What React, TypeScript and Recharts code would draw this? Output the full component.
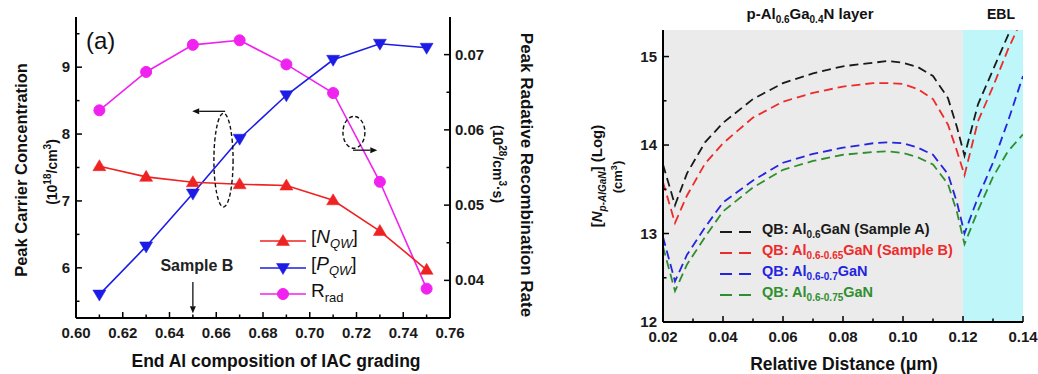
import React from 'react';
import {
  ComposedChart,
  LineChart,
  Line,
  XAxis,
  YAxis,
  ReferenceDot,
  ReferenceLine,
  ReferenceArea,
  Legend,
  Customized,
} from 'recharts';

const FONT = '"Liberation Sans", Arial, Helvetica, sans-serif';

// ---------------- Panel (a) data ----------------
const AL_END = [0.61, 0.63, 0.65, 0.67, 0.69, 0.71, 0.73, 0.75];
const N_QW = [7.52, 7.36, 7.28, 7.25, 7.23, 7.01, 6.55, 5.97];
const P_QW = [5.6, 6.32, 7.11, 7.93, 8.58, 9.11, 9.35, 9.29];
const R_RAD = [0.0626, 0.0677, 0.0713, 0.0719, 0.0687, 0.0649, 0.0531, 0.0389];

const A_X_DOMAIN = [0.6, 0.76];
const A_X_TICKS = [0.6, 0.61, 0.62, 0.63, 0.64, 0.65, 0.66, 0.67, 0.68, 0.69, 0.7, 0.71, 0.72, 0.73, 0.74, 0.75, 0.76];
const A_X_MAJOR = [0.6, 0.62, 0.64, 0.66, 0.68, 0.7, 0.72, 0.74, 0.76];
const A_YL_DOMAIN = [5.25, 9.75];
const A_YL_TICKS = [5.5, 6, 6.5, 7, 7.5, 8, 8.5, 9, 9.5];
const A_YL_MAJOR = [6, 7, 8, 9];
const A_YR_DOMAIN = [0.035, 0.075];
const A_YR_TICKS = [0.04, 0.045, 0.05, 0.055, 0.06, 0.065, 0.07];
const A_YR_MAJOR = [0.04, 0.05, 0.06, 0.07];

// annotations (data coordinates)
const A_ELLIPSE_LEFT = [{ x: 0.659, y: 6.91 }, { x: 0.6672, y: 8.31 }];
const A_ARROW_LEFT = [{ x: 0.6638, y: 8.34 }, { x: 0.6497, y: 8.34 }];
const A_ELLIPSE_RIGHT = [{ x: 0.7142, y: 0.05755 }, { x: 0.7236, y: 0.06179 }];
const A_ARROW_RIGHT = [{ x: 0.7185, y: 0.0573 }, { x: 0.7289, y: 0.0573 }];
const SAMPLE_B_ARROW = [{ x: 0.65, y: 5.79 }, { x: 0.65, y: 5.32 }];
const SAMPLE_B_LABEL = { x: 0.65, y: 6.04, text: 'Sample B' };

// ---------------- Panel (b) data ----------------
const DIST = [0.02, 0.024, 0.028, 0.034, 0.04, 0.05, 0.06, 0.07, 0.08, 0.09, 0.095, 0.1, 0.105, 0.11, 0.115, 0.118, 0.1205, 0.125, 0.13, 0.135, 0.14];
const QB_A = [13.78, 13.32, 13.68, 14.03, 14.25, 14.52, 14.7, 14.81, 14.89, 14.93, 14.95, 14.93, 14.88, 14.78, 14.53, 14.2, 13.88, 14.46, 14.85, 15.24, 15.65];
const QB_B = [13.58, 13.12, 13.43, 13.79, 14.02, 14.31, 14.49, 14.59, 14.66, 14.7, 14.7, 14.69, 14.63, 14.52, 14.23, 13.93, 13.66, 14.27, 14.66, 15.08, 15.45];
const QB_C = [12.96, 12.46, 12.76, 13.07, 13.35, 13.6, 13.8, 13.9, 13.97, 14.02, 14.03, 14.02, 13.97, 13.89, 13.67, 13.35, 13.0, 13.41, 13.8, 14.27, 14.78];
const QB_D = [12.85, 12.35, 12.65, 12.96, 13.25, 13.52, 13.72, 13.82, 13.89, 13.92, 13.93, 13.91, 13.86, 13.78, 13.56, 13.24, 12.88, 13.26, 13.64, 13.93, 14.12];

const B_X_DOMAIN = [0.02, 0.14];
const B_X_TICKS = [0.02, 0.03, 0.04, 0.05, 0.06, 0.07, 0.08, 0.09, 0.1, 0.11, 0.12, 0.13, 0.14];
const B_X_MAJOR = [0.02, 0.04, 0.06, 0.08, 0.1, 0.12, 0.14];
const B_Y_DOMAIN = [12, 15.3];
const B_Y_TICKS = [12, 12.5, 13, 13.5, 14, 14.5, 15];
const B_Y_MAJOR = [12, 13, 14, 15];
const P_LAYER = [0.02, 0.12];
const EBL_LAYER = [0.12, 0.14];

// ---------------- tables ----------------
const dataA = AL_END.map((x, i) => ({ x, n: N_QW[i], p: P_QW[i], r: R_RAD[i] }));
const dataB = DIST.map((x, i) => ({ x, a: QB_A[i], b: QB_B[i], c: QB_C[i], d: QB_D[i] }));

const RED = '#ee2222';
const BLUE = '#1c1ce6';
const MAGENTA = '#f022f0';

const B_SERIES = [
  { key: 'a', color: '#1a1a1a', sub: '0.6', tail: 'GaN (Sample A)' },
  { key: 'b', color: '#ee2a2a', sub: '0.6-0.65', tail: 'GaN (Sample B)' },
  { key: 'c', color: '#2424e0', sub: '0.6-0.7', tail: 'GaN' },
  { key: 'd', color: '#2f8f2f', sub: '0.6-0.75', tail: 'GaN' },
];

const isIn = (arr: number[], v: number) => arr.some((m) => Math.abs(m - v) < 1e-9);

const tickText = { fontFamily: FONT, fontWeight: 700, fontSize: 15, fill: '#1a1a1a' } as const;

const bottomTick = (majors: number[], fmt: (v: number) => string) => (p: any) => {
  const v = p.payload.value;
  const maj = isIn(majors, v);
  return (
    <g>
      <line x1={p.x} x2={p.x} y1={p.y} y2={p.y - (maj ? 6 : 3.5)} stroke="#000" strokeWidth={1.5} />
      {maj && (
        <text x={p.x} y={p.y + 20} textAnchor="middle" {...tickText}>
          {fmt(v)}
        </text>
      )}
    </g>
  );
};

const leftTick = (majors: number[], fmt: (v: number) => string) => (p: any) => {
  const v = p.payload.value;
  const maj = isIn(majors, v);
  return (
    <g>
      <line x1={p.x} x2={p.x + (maj ? 6 : 3.5)} y1={p.y} y2={p.y} stroke="#000" strokeWidth={1.5} />
      {maj && (
        <text x={p.x - 6} y={p.y + 5} textAnchor="end" {...tickText}>
          {fmt(v)}
        </text>
      )}
    </g>
  );
};

const rightTick = (majors: number[], fmt: (v: number) => string) => (p: any) => {
  const v = p.payload.value;
  const maj = isIn(majors, v);
  return (
    <g>
      <line x1={p.x} x2={p.x - (maj ? 6 : 3.5)} y1={p.y} y2={p.y} stroke="#000" strokeWidth={1.5} />
      {maj && (
        <text x={p.x + 5} y={p.y + 5} textAnchor="start" {...tickText}>
          {fmt(v)}
        </text>
      )}
    </g>
  );
};

const arrowShape = (p: any) => {
  const { x1, y1, x2, y2 } = p;
  const dx = x2 - x1;
  const dy = y2 - y1;
  const len = Math.hypot(dx, dy) || 1;
  const ux = dx / len;
  const uy = dy / len;
  const hl = 7;
  const hw = 3;
  const bx = x2 - ux * hl;
  const by = y2 - uy * hl;
  return (
    <g>
      <line x1={x1} y1={y1} x2={bx} y2={by} stroke="#111" strokeWidth={1.3} />
      <polygon points={`${x2},${y2} ${bx - uy * hw},${by + ux * hw} ${bx + uy * hw},${by - ux * hw}`} fill="#111" />
    </g>
  );
};

const ellipseShape = (p: any) => {
  const { x1, y1, x2, y2 } = p;
  return (
    <ellipse
      cx={(x1 + x2) / 2}
      cy={(y1 + y2) / 2}
      rx={Math.abs(x2 - x1) / 2}
      ry={Math.abs(y2 - y1) / 2}
      fill="none"
      stroke="#111"
      strokeWidth={1.4}
      strokeDasharray="4 2.5"
    />
  );
};

const triUp = (cx: number, cy: number, color: string) => (
  <polygon points={`${cx},${cy - 6.5} ${cx - 6.5},${cy + 4.5} ${cx + 6.5},${cy + 4.5}`} fill={color} stroke={color} strokeWidth={0.5} />
);
const triDown = (cx: number, cy: number, color: string) => (
  <polygon points={`${cx},${cy + 6.5} ${cx - 6.5},${cy - 4.5} ${cx + 6.5},${cy - 4.5}`} fill={color} stroke={color} strokeWidth={0.5} />
);
const circ = (cx: number, cy: number, color: string) => <circle cx={cx} cy={cy} r={5.5} fill={color} stroke={color} />;

const dotOf = (fn: (cx: number, cy: number, c: string) => React.ReactElement, color: string) => (p: any) => {
  if (p.cx == null || p.cy == null) return <g key={p.index} />;
  return <g key={p.index}>{fn(p.cx, p.cy, color)}</g>;
};

const A_LEGEND = [
  { shape: triUp, color: RED, label: <span>[<i>N</i><sub style={{ fontSize: 13, fontStyle: 'italic' }}>QW</sub>]</span> },
  { shape: triDown, color: BLUE, label: <span>[<i>P</i><sub style={{ fontSize: 13, fontStyle: 'italic' }}>QW</sub>]</span> },
  { shape: circ, color: MAGENTA, label: <span>R<sub style={{ fontSize: 13 }}>rad</sub></span> },
];

const LegendA = () => (
  <div style={{ fontFamily: FONT, fontSize: 19, color: '#111' }}>
    {A_LEGEND.map((s, i) => (
      <div key={i} style={{ display: 'flex', alignItems: 'center', height: 26.7, whiteSpace: 'nowrap' }}>
        <svg width={48} height={20} style={{ display: 'block' }}>
          <line x1={1} x2={47} y1={10} y2={10} stroke={s.color} strokeWidth={1.6} />
          {s.shape(24, 10, s.color)}
        </svg>
        <span style={{ marginLeft: 4, lineHeight: '20px' }}>{s.label}</span>
      </div>
    ))}
  </div>
);

const LegendB = () => (
  <div style={{ fontFamily: FONT, fontSize: 14.5, fontWeight: 700 }}>
    {B_SERIES.map((s) => (
      <div key={s.key} style={{ display: 'flex', alignItems: 'center', height: 21, whiteSpace: 'nowrap', color: s.color }}>
        <svg width={40} height={14} style={{ display: 'block' }}>
          <line x1={2} x2={39} y1={7} y2={7} stroke={s.color} strokeWidth={1.8} strokeDasharray="12 7" />
        </svg>
        <span style={{ marginLeft: 4, lineHeight: '18px' }}>
          QB: Al<sub style={{ fontSize: 10 }}>{s.sub}</sub>
          {s.tail}
        </span>
      </div>
    ))}
  </div>
);

const titleStyle = { fontFamily: FONT, fontWeight: 700, fill: '#111' } as const;

const TextsA = () => (
  <g>
    <text x={86} y={49} fontFamily={FONT} fontSize={24} fill="#111">
      (a)
    </text>
    <text transform="rotate(-90 27 170)" x={27} y={170} textAnchor="middle" fontSize={16.5} {...titleStyle}>
      Peak Carrier Concentration
    </text>
    <text transform="rotate(-90 57 172)" x={57} y={172} textAnchor="middle" fontSize={14} {...titleStyle}>
      (10<tspan fontSize={10} dy={-6}>18</tspan>
      <tspan dy={6}>/cm</tspan>
      <tspan fontSize={10} dy={-6}>3</tspan>
      <tspan dy={6}>)</tspan>
    </text>
    <text transform="rotate(90 521 175)" x={521} y={175} textAnchor="middle" fontSize={17} {...titleStyle}>
      Peak Radative Recombination Rate
    </text>
    <text transform="rotate(90 493 164)" x={493} y={164} textAnchor="middle" fontSize={14} {...titleStyle}>
      (10<tspan fontSize={10} dy={-6}>28</tspan>
      <tspan dy={6}>/cm</tspan>
      <tspan fontSize={10} dy={-6}>3</tspan>
      <tspan dy={6}>·s)</tspan>
    </text>
    <text x={276} y={367} textAnchor="middle" fontSize={17.5} {...titleStyle}>
      End Al composition of IAC grading
    </text>
  </g>
);

const TextsB = () => (
  <g>
    <text x={130} y={57} fontFamily={FONT} fontSize={24} fill="#111">
      (b)
    </text>
    <text x={270} y={19} textAnchor="middle" fontSize={15} {...titleStyle}>
      p-Al<tspan fontSize={10} dy={4}>0.6</tspan>
      <tspan dy={-4}>Ga</tspan>
      <tspan fontSize={10} dy={4}>0.4</tspan>
      <tspan dy={-4}>N layer</tspan>
    </text>
    <text x={461} y={19} textAnchor="middle" fontSize={14} {...titleStyle}>
      EBL
    </text>
    <text transform="rotate(-90 62 176)" x={62} y={176} textAnchor="middle" fontSize={15} {...titleStyle}>
      [<tspan fontStyle="italic">N</tspan>
      <tspan fontSize={10} dy={4} fontStyle="italic">p-AlGaN</tspan>
      <tspan dy={-4}>] (Log)</tspan>
    </text>
    <text transform="rotate(-90 82 177)" x={82} y={177} textAnchor="middle" fontSize={13} {...titleStyle}>
      (cm<tspan fontSize={9} dy={-5}>3</tspan>
      <tspan dy={5}>)</tspan>
    </text>
    <text x={304} y={370} textAnchor="middle" fontSize={17.5} {...titleStyle}>
      Relative Distance (μm)
    </text>
  </g>
);

const sampleBText = (p: any) => (
  <text x={p.cx + 4} y={p.cy + 6} textAnchor="middle" fontFamily={FONT} fontWeight={700} fontSize={16} fill="#222">
    {SAMPLE_B_LABEL.text}
  </text>
);

export default function App() {
  return (
    <div style={{ position: 'absolute', left: 0, top: 0, width: 1038, height: 374, background: '#fff', fontFamily: FONT }}>
      <div style={{ position: 'absolute', left: 0, top: 0 }}>
        <ComposedChart width={540} height={374} data={dataA} margin={{ top: 17, right: 0, bottom: 0, left: 0 }}>
          <XAxis
            dataKey="x"
            type="number"
            domain={A_X_DOMAIN}
            ticks={A_X_TICKS}
            interval={0}
            height={56}
            tickSize={0}
            tickMargin={0}
            tickLine={false}
            tick={bottomTick(A_X_MAJOR, (v) => v.toFixed(2))}
            axisLine={{ stroke: '#000', strokeWidth: 2 }}
            allowDataOverflow
          />
          <XAxis xAxisId="top" dataKey="x" type="number" orientation="top" domain={A_X_DOMAIN} height={0} tick={false} tickLine={false} axisLine={{ stroke: '#000', strokeWidth: 2 }} allowDataOverflow />
          <YAxis
            yAxisId="l"
            type="number"
            domain={A_YL_DOMAIN}
            ticks={A_YL_TICKS}
            interval={0}
            width={76}
            tickSize={0}
            tickMargin={0}
            tickLine={false}
            tick={leftTick(A_YL_MAJOR, (v) => String(v))}
            axisLine={{ stroke: '#000', strokeWidth: 2 }}
            allowDataOverflow
          />
          <YAxis
            yAxisId="r"
            orientation="right"
            type="number"
            domain={A_YR_DOMAIN}
            ticks={A_YR_TICKS}
            interval={0}
            width={90}
            tickSize={0}
            tickMargin={0}
            tickLine={false}
            tick={rightTick(A_YR_MAJOR, (v) => v.toFixed(2))}
            axisLine={{ stroke: '#000', strokeWidth: 2 }}
            allowDataOverflow
          />
          <Line yAxisId="r" dataKey="r" stroke={MAGENTA} strokeWidth={1.6} isAnimationActive={false} dot={dotOf(circ, MAGENTA)} activeDot={false} />
          <Line yAxisId="l" dataKey="p" stroke={BLUE} strokeWidth={1.6} isAnimationActive={false} dot={dotOf(triDown, BLUE)} activeDot={false} />
          <Line yAxisId="l" dataKey="n" stroke={RED} strokeWidth={1.6} isAnimationActive={false} dot={dotOf(triUp, RED)} activeDot={false} />
          <ReferenceLine yAxisId="l" segment={A_ELLIPSE_LEFT} shape={ellipseShape} />
          <ReferenceLine yAxisId="l" segment={A_ARROW_LEFT} shape={arrowShape} />
          <ReferenceLine yAxisId="r" segment={A_ELLIPSE_RIGHT} shape={ellipseShape} />
          <ReferenceLine yAxisId="r" segment={A_ARROW_RIGHT} shape={arrowShape} />
          <ReferenceLine yAxisId="l" segment={SAMPLE_B_ARROW} shape={arrowShape} />
          <ReferenceDot yAxisId="l" x={SAMPLE_B_LABEL.x} y={SAMPLE_B_LABEL.y} shape={sampleBText} />
          <Legend
            layout="horizontal"
            verticalAlign="middle"
            align="center"
            content={() => <LegendA />}
            wrapperStyle={{ position: 'absolute', left: 259, top: 227.5, width: 'auto', height: 'auto' }}
          />
          <Customized component={TextsA} />
        </ComposedChart>
      </div>
      <div style={{ position: 'absolute', left: 540, top: 0 }}>
        <LineChart width={498} height={374} data={dataB} margin={{ top: 30, right: 15, bottom: 0, left: 0 }}>
          <ReferenceArea x1={P_LAYER[0]} x2={P_LAYER[1]} y1={B_Y_DOMAIN[0]} y2={B_Y_DOMAIN[1]} fill="#ebebeb" fillOpacity={1} stroke="none" />
          <ReferenceArea x1={EBL_LAYER[0]} x2={EBL_LAYER[1]} y1={B_Y_DOMAIN[0]} y2={B_Y_DOMAIN[1]} fill="#bff6fa" fillOpacity={1} stroke="none" />
          <XAxis
            dataKey="x"
            type="number"
            domain={B_X_DOMAIN}
            ticks={B_X_TICKS}
            interval={0}
            height={52}
            tickSize={0}
            tickMargin={0}
            tickLine={false}
            tick={bottomTick(B_X_MAJOR, (v) => v.toFixed(2))}
            axisLine={{ stroke: '#000', strokeWidth: 2 }}
            allowDataOverflow
          />
          <XAxis xAxisId="top" dataKey="x" type="number" orientation="top" domain={B_X_DOMAIN} height={0} tick={false} tickLine={false} axisLine={{ stroke: '#000', strokeWidth: 2 }} allowDataOverflow />
          <YAxis
            type="number"
            domain={B_Y_DOMAIN}
            ticks={B_Y_TICKS}
            interval={0}
            width={123}
            tickSize={0}
            tickMargin={0}
            tickLine={false}
            tick={leftTick(B_Y_MAJOR, (v) => String(v))}
            axisLine={{ stroke: '#000', strokeWidth: 2 }}
            allowDataOverflow
          />
          <YAxis yAxisId="r" orientation="right" type="number" domain={B_Y_DOMAIN} width={0} tick={false} tickLine={false} axisLine={{ stroke: '#000', strokeWidth: 2 }} allowDataOverflow />
          {B_SERIES.map((s) => (
            <Line
              key={s.key}
              dataKey={s.key}
              type="linear"
              stroke={s.color}
              strokeWidth={1.8}
              strokeDasharray="9 5"
              dot={false}
              activeDot={false}
              isAnimationActive={false}
            />
          ))}
          <Legend
            layout="horizontal"
            verticalAlign="middle"
            align="center"
            content={() => <LegendB />}
            wrapperStyle={{ position: 'absolute', left: 178, top: 221.5, width: 'auto', height: 'auto' }}
          />
          <Customized component={TextsB} />
        </LineChart>
      </div>
    </div>
  );
}
